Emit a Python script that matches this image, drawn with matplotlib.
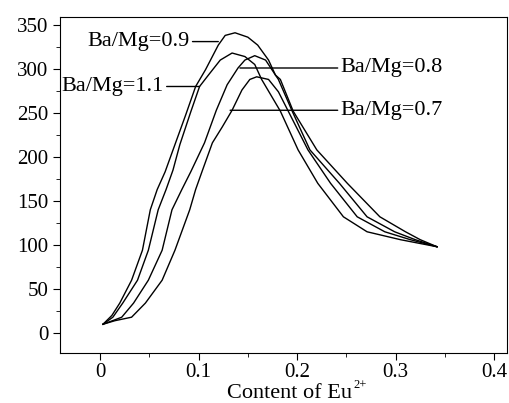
import matplotlib
matplotlib.use('Agg')
import matplotlib.pyplot as plt
from matplotlib.ticker import MultipleLocator

plt.rcParams['font.family'] = 'Liberation Serif'

# curves: content of Eu2+ vs intensity
x_09 = [0.003, 0.012, 0.020, 0.032, 0.043, 0.051, 0.058, 0.066, 0.076, 0.087, 0.097, 0.107, 0.120,
        0.127, 0.137, 0.150, 0.160, 0.171, 0.178, 0.181, 0.195, 0.213, 0.243, 0.271, 0.299, 0.320, 0.342]
y_09 = [10, 20, 34, 60, 94, 140, 163, 183, 214, 248, 280, 299, 327,
        338, 341, 336, 327, 310, 293, 288, 252, 208, 170, 132, 115, 106, 98]

x_11 = [0.003, 0.013, 0.023, 0.038, 0.049, 0.059, 0.067, 0.074, 0.081, 0.092, 0.101, 0.110, 0.122,
        0.134, 0.147, 0.157, 0.164, 0.183, 0.201, 0.221, 0.247, 0.271, 0.305, 0.342]
y_11 = [10, 18, 34, 60, 94, 140, 163, 185, 214, 251, 280, 293, 310,
        318, 314, 305, 288, 252, 208, 170, 132, 115, 106, 98]

x_08 = [0.003, 0.015, 0.022, 0.034, 0.049, 0.063, 0.073, 0.083, 0.092, 0.106, 0.118, 0.129, 0.140,
        0.147, 0.157, 0.168, 0.178, 0.183, 0.196, 0.220, 0.251, 0.284, 0.310, 0.325, 0.342]
y_08 = [10, 15, 18, 34, 60, 94, 140, 163, 183, 216, 253, 282, 301,
        310, 315, 310, 293, 288, 252, 208, 170, 132, 115, 106, 98]

x_07 = [0.003, 0.015, 0.032, 0.046, 0.063, 0.076, 0.091, 0.097, 0.104, 0.114, 0.124, 0.134,
        0.144, 0.152, 0.159, 0.171, 0.181, 0.191, 0.211, 0.234, 0.261, 0.289, 0.315, 0.342]
y_07 = [10, 14, 18, 34, 60, 94, 140, 163, 185, 216, 234, 253,
        276, 288, 291, 288, 274, 252, 208, 170, 132, 115, 106, 98]

fig = plt.figure(figsize=(5.09, 4.03), dpi=100)
ax = fig.add_axes([0.118, 0.124, 0.878, 0.834])

for xs, ys in [(x_09, y_09), (x_11, y_11), (x_08, y_08), (x_07, y_07)]:
    ax.plot(xs, ys, color='black', linewidth=1.0)

ax.set_xlim(-0.0406, 0.413)
ax.set_ylim(-22.7, 359)
ax.xaxis.set_minor_locator(MultipleLocator(0.05))
ax.yaxis.set_major_locator(MultipleLocator(50))
ax.yaxis.set_minor_locator(MultipleLocator(25))
ax.set_xticks([0, 0.1, 0.2, 0.3, 0.4])
ax.set_xticklabels(['0', '0.1', '0.2', '0.3', '0.4'])
ax.tick_params(which='both', direction='out', labelsize=15)
ax.tick_params(which='major', length=5)
ax.tick_params(which='minor', length=3)
ax.tick_params(axis='x', pad=2.5)

# x label with a small raised "2+"
fig.text(0.446, 0.012, 'Content of Eu', fontsize=16, ha='left', va='baseline')
fig.text(0.694, 0.036, '2+', fontsize=9, ha='left', va='baseline')

line = dict(arrowstyle='-', color='black', linewidth=1.0, shrinkA=0, shrinkB=0)
ax.annotate('Ba/Mg=0.9', xy=(0.120, 331), xytext=(0.091, 331), ha='right', va='center',
            fontsize=16, arrowprops=dict(line, relpos=(1, 0.5)))
ax.annotate('Ba/Mg=1.1', xy=(0.101, 280), xytext=(-0.039, 280), ha='left', va='center',
            fontsize=16, arrowprops=dict(line, relpos=(0.97, 0.5)))
ax.annotate('Ba/Mg=0.8', xy=(0.142, 301), xytext=(0.244, 301), ha='left', va='center',
            fontsize=16, arrowprops=dict(line, relpos=(0, 0.5)))
ax.annotate('Ba/Mg=0.7', xy=(0.132, 253), xytext=(0.244, 253), ha='left', va='center',
            fontsize=16, arrowprops=dict(line, relpos=(0, 0.5)))

fig.savefig('out.png', dpi=100)
